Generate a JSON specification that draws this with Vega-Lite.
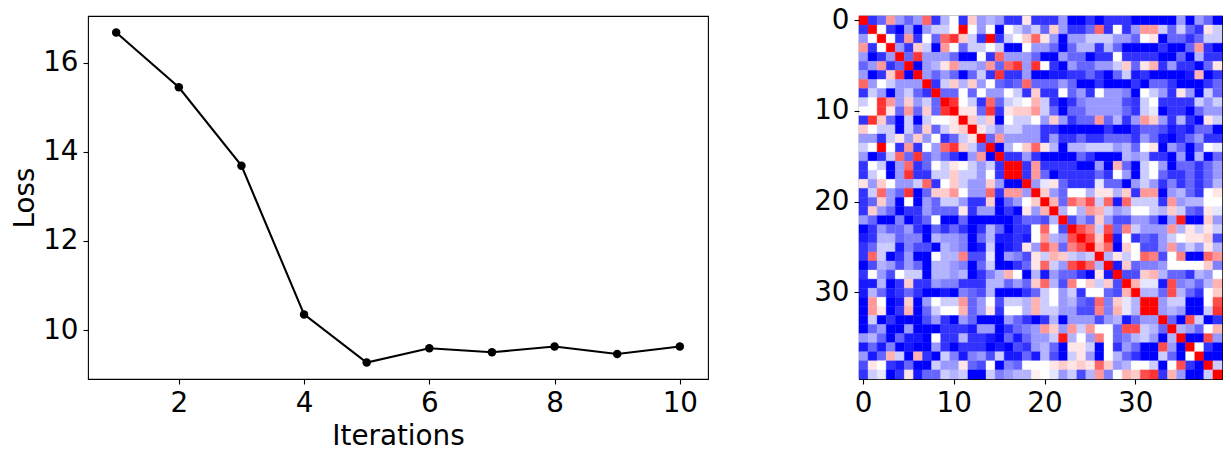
{"$schema":"https://vega.github.io/schema/vega-lite/v6.json","padding":{"left":11,"top":5,"right":9,"bottom":0},"autosize":{"type":"pad"},"background":"white","config":{"font":"DejaVu Sans","view":{"stroke":"black","strokeWidth":1.1},"axis":{"domain":false,"grid":false,"ticks":true,"tickColor":"black","tickSize":5,"tickWidth":1.1,"labelColor":"black","titleColor":"black","labelFont":"DejaVu Sans","titleFont":"DejaVu Sans","labelFontSize":27.8,"titleFontSize":27.8,"titleFontWeight":"normal","labelPadding":5,"labelFlush":false,"labelOverlap":false}},"spacing":104,"hconcat":[{"width":620,"height":363,"data":{"values":[{"Iterations":1,"Loss":16.68},{"Iterations":2,"Loss":15.45},{"Iterations":3,"Loss":13.69},{"Iterations":4,"Loss":10.35},{"Iterations":5,"Loss":9.27},{"Iterations":6,"Loss":9.59},{"Iterations":7,"Loss":9.5},{"Iterations":8,"Loss":9.63},{"Iterations":9,"Loss":9.46},{"Iterations":10,"Loss":9.63}]},"mark":{"type":"line","color":"black","strokeWidth":2.08,"point":{"filled":true,"color":"black","size":72,"opacity":1}},"encoding":{"x":{"field":"Iterations","type":"quantitative","scale":{"domain":[0.55,10.45],"nice":false,"zero":false},"axis":{"values":[2,4,6,8,10],"title":"Iterations","titlePadding":6}},"y":{"field":"Loss","type":"quantitative","scale":{"domain":[8.9,17.05],"nice":false,"zero":false},"axis":{"values":[10,12,14,16],"title":"Loss","titlePadding":3}}}},{"width":363,"height":363,"data":{"values":[
{"x":0,"y":0,"v":5},{"x":1,"y":0,"v":-4},{"x":2,"y":0,"v":-3},{"x":3,"y":0,"v":2},{"x":4,"y":0,"v":-2},{"x":5,"y":0,"v":-3},{"x":6,"y":0,"v":-2},{"x":7,"y":0,"v":3},{"x":8,"y":0,"v":-4},{"x":9,"y":0,"v":-1.5},{"x":10,"y":0,"v":0},{"x":11,"y":0,"v":-4},{"x":12,"y":0,"v":1},{"x":13,"y":0,"v":-2},{"x":14,"y":0,"v":-1.5},{"x":15,"y":0,"v":-2},{"x":16,"y":0,"v":-4},{"x":17,"y":0,"v":-4},{"x":18,"y":0,"v":0.5},{"x":19,"y":0,"v":-4},{"x":20,"y":0,"v":-4},{"x":21,"y":0,"v":-4},{"x":22,"y":0,"v":-2},{"x":23,"y":0,"v":-5},{"x":24,"y":0,"v":-5},{"x":25,"y":0,"v":-4},{"x":26,"y":0,"v":-5},{"x":27,"y":0,"v":-4},{"x":28,"y":0,"v":-4},{"x":29,"y":0,"v":-4},{"x":30,"y":0,"v":-5},{"x":31,"y":0,"v":-5},{"x":32,"y":0,"v":-5},{"x":33,"y":0,"v":-5},{"x":34,"y":0,"v":-5},{"x":35,"y":0,"v":-2},{"x":36,"y":0,"v":-5},{"x":37,"y":0,"v":-2},{"x":38,"y":0,"v":-3},{"x":39,"y":0,"v":-5},
{"x":0,"y":1,"v":-4},{"x":1,"y":1,"v":5},{"x":2,"y":1,"v":0},{"x":3,"y":1,"v":-4},{"x":4,"y":1,"v":-5},{"x":5,"y":1,"v":-2},{"x":6,"y":1,"v":-5},{"x":7,"y":1,"v":-2},{"x":8,"y":1,"v":-1},{"x":9,"y":1,"v":-1},{"x":10,"y":1,"v":0},{"x":11,"y":1,"v":5},{"x":12,"y":1,"v":0},{"x":13,"y":1,"v":-2},{"x":14,"y":1,"v":0},{"x":15,"y":1,"v":-5},{"x":16,"y":1,"v":0},{"x":17,"y":1,"v":-1},{"x":18,"y":1,"v":-2},{"x":19,"y":1,"v":-1},{"x":20,"y":1,"v":-3},{"x":21,"y":1,"v":1},{"x":22,"y":1,"v":-2},{"x":23,"y":1,"v":-4},{"x":24,"y":1,"v":-4},{"x":25,"y":1,"v":-3},{"x":26,"y":1,"v":3},{"x":27,"y":1,"v":-4},{"x":28,"y":1,"v":0},{"x":29,"y":1,"v":-4},{"x":30,"y":1,"v":-2},{"x":31,"y":1,"v":2},{"x":32,"y":1,"v":2},{"x":33,"y":1,"v":-1},{"x":34,"y":1,"v":-3},{"x":35,"y":1,"v":-1},{"x":36,"y":1,"v":-3},{"x":37,"y":1,"v":-4},{"x":38,"y":1,"v":0.5},{"x":39,"y":1,"v":-1},
{"x":0,"y":2,"v":-2},{"x":1,"y":2,"v":0},{"x":2,"y":2,"v":5},{"x":3,"y":2,"v":0},{"x":4,"y":2,"v":-4},{"x":5,"y":2,"v":2},{"x":6,"y":2,"v":-4},{"x":7,"y":2,"v":0},{"x":8,"y":2,"v":-3},{"x":9,"y":2,"v":3},{"x":10,"y":2,"v":4},{"x":11,"y":2,"v":1},{"x":12,"y":2,"v":-1},{"x":13,"y":2,"v":-4},{"x":14,"y":2,"v":5},{"x":15,"y":2,"v":-4},{"x":16,"y":2,"v":-1},{"x":17,"y":2,"v":0},{"x":18,"y":2,"v":1},{"x":19,"y":2,"v":3},{"x":20,"y":2,"v":0.5},{"x":21,"y":2,"v":-2},{"x":22,"y":2,"v":-5},{"x":23,"y":2,"v":-2},{"x":24,"y":2,"v":-2},{"x":25,"y":2,"v":-1},{"x":26,"y":2,"v":-1},{"x":27,"y":2,"v":-1},{"x":28,"y":2,"v":-2},{"x":29,"y":2,"v":-2},{"x":30,"y":2,"v":-3},{"x":31,"y":2,"v":0},{"x":32,"y":2,"v":0.5},{"x":33,"y":2,"v":-5},{"x":34,"y":2,"v":-3},{"x":35,"y":2,"v":-3},{"x":36,"y":2,"v":-4},{"x":37,"y":2,"v":-3},{"x":38,"y":2,"v":-1},{"x":39,"y":2,"v":-1},
{"x":0,"y":3,"v":2},{"x":1,"y":3,"v":-4},{"x":2,"y":3,"v":0},{"x":3,"y":3,"v":5},{"x":4,"y":3,"v":-2},{"x":5,"y":3,"v":-4},{"x":6,"y":3,"v":1},{"x":7,"y":3,"v":-1},{"x":8,"y":3,"v":-5},{"x":9,"y":3,"v":2},{"x":10,"y":3,"v":0},{"x":11,"y":3,"v":-3},{"x":12,"y":3,"v":-1},{"x":13,"y":3,"v":-1},{"x":14,"y":3,"v":0},{"x":15,"y":3,"v":-1},{"x":16,"y":3,"v":-5},{"x":17,"y":3,"v":-5},{"x":18,"y":3,"v":0},{"x":19,"y":3,"v":-2},{"x":20,"y":3,"v":-2},{"x":21,"y":3,"v":-3},{"x":22,"y":3,"v":-5},{"x":23,"y":3,"v":-3},{"x":24,"y":3,"v":-1.5},{"x":25,"y":3,"v":-1.5},{"x":26,"y":3,"v":-4},{"x":27,"y":3,"v":-1.5},{"x":28,"y":3,"v":-3},{"x":29,"y":3,"v":-5},{"x":30,"y":3,"v":-5},{"x":31,"y":3,"v":-5},{"x":32,"y":3,"v":-5},{"x":33,"y":3,"v":-4},{"x":34,"y":3,"v":-5},{"x":35,"y":3,"v":-5},{"x":36,"y":3,"v":-3},{"x":37,"y":3,"v":2},{"x":38,"y":3,"v":-4},{"x":39,"y":3,"v":-5},
{"x":0,"y":4,"v":-2},{"x":1,"y":4,"v":-5},{"x":2,"y":4,"v":-4},{"x":3,"y":4,"v":-2},{"x":4,"y":4,"v":5},{"x":5,"y":4,"v":-3},{"x":6,"y":4,"v":4},{"x":7,"y":4,"v":-2},{"x":8,"y":4,"v":-2},{"x":9,"y":4,"v":-2},{"x":10,"y":4,"v":-3},{"x":11,"y":4,"v":-5},{"x":12,"y":4,"v":-5},{"x":13,"y":4,"v":0},{"x":14,"y":4,"v":-4},{"x":15,"y":4,"v":3},{"x":16,"y":4,"v":-2},{"x":17,"y":4,"v":-2},{"x":18,"y":4,"v":-2},{"x":19,"y":4,"v":-3},{"x":20,"y":4,"v":-5},{"x":21,"y":4,"v":-5},{"x":22,"y":4,"v":-2},{"x":23,"y":4,"v":-3},{"x":24,"y":4,"v":-3},{"x":25,"y":4,"v":-5},{"x":26,"y":4,"v":-4},{"x":27,"y":4,"v":-4},{"x":28,"y":4,"v":0},{"x":29,"y":4,"v":-4},{"x":30,"y":4,"v":-4},{"x":31,"y":4,"v":-4},{"x":32,"y":4,"v":-4},{"x":33,"y":4,"v":-5},{"x":34,"y":4,"v":-5},{"x":35,"y":4,"v":-3},{"x":36,"y":4,"v":-5},{"x":37,"y":4,"v":-1.5},{"x":38,"y":4,"v":-4},{"x":39,"y":4,"v":-4},
{"x":0,"y":5,"v":-3},{"x":1,"y":5,"v":-2},{"x":2,"y":5,"v":2},{"x":3,"y":5,"v":-4},{"x":4,"y":5,"v":-3},{"x":5,"y":5,"v":5},{"x":6,"y":5,"v":-5},{"x":7,"y":5,"v":-2},{"x":8,"y":5,"v":-1.5},{"x":9,"y":5,"v":0.5},{"x":10,"y":5,"v":2},{"x":11,"y":5,"v":-1.5},{"x":12,"y":5,"v":-1.5},{"x":13,"y":5,"v":-2},{"x":14,"y":5,"v":2},{"x":15,"y":5,"v":-3},{"x":16,"y":5,"v":3},{"x":17,"y":5,"v":4},{"x":18,"y":5,"v":-2},{"x":19,"y":5,"v":4},{"x":20,"y":5,"v":0},{"x":21,"y":5,"v":-4},{"x":22,"y":5,"v":-5},{"x":23,"y":5,"v":-2},{"x":24,"y":5,"v":-3},{"x":25,"y":5,"v":-3},{"x":26,"y":5,"v":-2},{"x":27,"y":5,"v":-2},{"x":28,"y":5,"v":-1},{"x":29,"y":5,"v":1},{"x":30,"y":5,"v":-3},{"x":31,"y":5,"v":0.5},{"x":32,"y":5,"v":1.5},{"x":33,"y":5,"v":-4},{"x":34,"y":5,"v":-2},{"x":35,"y":5,"v":-4},{"x":36,"y":5,"v":-4},{"x":37,"y":5,"v":-5},{"x":38,"y":5,"v":-3},{"x":39,"y":5,"v":0.5},
{"x":0,"y":6,"v":-2},{"x":1,"y":6,"v":-5},{"x":2,"y":6,"v":-4},{"x":3,"y":6,"v":1},{"x":4,"y":6,"v":4},{"x":5,"y":6,"v":-5},{"x":6,"y":6,"v":5},{"x":7,"y":6,"v":-2},{"x":8,"y":6,"v":-3},{"x":9,"y":6,"v":-2},{"x":10,"y":6,"v":-3},{"x":11,"y":6,"v":-5},{"x":12,"y":6,"v":-3},{"x":13,"y":6,"v":-1},{"x":14,"y":6,"v":-4},{"x":15,"y":6,"v":4},{"x":16,"y":6,"v":-4},{"x":17,"y":6,"v":-4},{"x":18,"y":6,"v":-2},{"x":19,"y":6,"v":-5},{"x":20,"y":6,"v":-5},{"x":21,"y":6,"v":-4.5},{"x":22,"y":6,"v":-4.5},{"x":23,"y":6,"v":-4},{"x":24,"y":6,"v":-4},{"x":25,"y":6,"v":-3},{"x":26,"y":6,"v":-4},{"x":27,"y":6,"v":-5},{"x":28,"y":6,"v":-3},{"x":29,"y":6,"v":-1},{"x":30,"y":6,"v":-4.5},{"x":31,"y":6,"v":-4},{"x":32,"y":6,"v":-5},{"x":33,"y":6,"v":-5},{"x":34,"y":6,"v":-5},{"x":35,"y":6,"v":-5},{"x":36,"y":6,"v":-4.5},{"x":37,"y":6,"v":1.5},{"x":38,"y":6,"v":-5},{"x":39,"y":6,"v":-4},
{"x":0,"y":7,"v":3},{"x":1,"y":7,"v":-2},{"x":2,"y":7,"v":0},{"x":3,"y":7,"v":-1},{"x":4,"y":7,"v":-2},{"x":5,"y":7,"v":-2},{"x":6,"y":7,"v":-2},{"x":7,"y":7,"v":5},{"x":8,"y":7,"v":-4},{"x":9,"y":7,"v":-1},{"x":10,"y":7,"v":1},{"x":11,"y":7,"v":-1.5},{"x":12,"y":7,"v":1},{"x":13,"y":7,"v":-2},{"x":14,"y":7,"v":0},{"x":15,"y":7,"v":-3},{"x":16,"y":7,"v":-3.5},{"x":17,"y":7,"v":-3},{"x":18,"y":7,"v":3},{"x":19,"y":7,"v":-3},{"x":20,"y":7,"v":-3},{"x":21,"y":7,"v":-3},{"x":22,"y":7,"v":-2},{"x":23,"y":7,"v":-3},{"x":24,"y":7,"v":-5},{"x":25,"y":7,"v":-5},{"x":26,"y":7,"v":-4},{"x":27,"y":7,"v":-5},{"x":28,"y":7,"v":-5},{"x":29,"y":7,"v":-5},{"x":30,"y":7,"v":-4},{"x":31,"y":7,"v":-5},{"x":32,"y":7,"v":-3},{"x":33,"y":7,"v":-3},{"x":34,"y":7,"v":-4},{"x":35,"y":7,"v":-5},{"x":36,"y":7,"v":-5},{"x":37,"y":7,"v":-5},{"x":38,"y":7,"v":-4},{"x":39,"y":7,"v":-3},
{"x":0,"y":8,"v":-4},{"x":1,"y":8,"v":-1},{"x":2,"y":8,"v":-2},{"x":3,"y":8,"v":-5},{"x":4,"y":8,"v":-2},{"x":5,"y":8,"v":-1},{"x":6,"y":8,"v":-3},{"x":7,"y":8,"v":-4},{"x":8,"y":8,"v":5},{"x":9,"y":8,"v":-3},{"x":10,"y":8,"v":-3},{"x":11,"y":8,"v":0},{"x":12,"y":8,"v":-3},{"x":13,"y":8,"v":0},{"x":14,"y":8,"v":-2},{"x":15,"y":8,"v":-2},{"x":16,"y":8,"v":0},{"x":17,"y":8,"v":-1},{"x":18,"y":8,"v":-4},{"x":19,"y":8,"v":1},{"x":20,"y":8,"v":-4},{"x":21,"y":8,"v":-4},{"x":22,"y":8,"v":0},{"x":23,"y":8,"v":-3},{"x":24,"y":8,"v":-2},{"x":25,"y":8,"v":-4},{"x":26,"y":8,"v":0},{"x":27,"y":8,"v":-2},{"x":28,"y":8,"v":-2},{"x":29,"y":8,"v":-2.5},{"x":30,"y":8,"v":-5},{"x":31,"y":8,"v":0},{"x":32,"y":8,"v":-1},{"x":33,"y":8,"v":-2},{"x":34,"y":8,"v":-4},{"x":35,"y":8,"v":0.5},{"x":36,"y":8,"v":-2},{"x":37,"y":8,"v":-5},{"x":38,"y":8,"v":-1},{"x":39,"y":8,"v":-3},
{"x":0,"y":9,"v":-1},{"x":1,"y":9,"v":0},{"x":2,"y":9,"v":4},{"x":3,"y":9,"v":2},{"x":4,"y":9,"v":-2},{"x":5,"y":9,"v":1},{"x":6,"y":9,"v":-2},{"x":7,"y":9,"v":-1},{"x":8,"y":9,"v":-3},{"x":9,"y":9,"v":5},{"x":10,"y":9,"v":4},{"x":11,"y":9,"v":0},{"x":12,"y":9,"v":-1},{"x":13,"y":9,"v":-4},{"x":14,"y":9,"v":3},{"x":15,"y":9,"v":-3},{"x":16,"y":9,"v":-1},{"x":17,"y":9,"v":-0.5},{"x":18,"y":9,"v":0},{"x":19,"y":9,"v":1.5},{"x":20,"y":9,"v":-1},{"x":21,"y":9,"v":-4},{"x":22,"y":9,"v":-5},{"x":23,"y":9,"v":-4},{"x":24,"y":9,"v":-2.5},{"x":25,"y":9,"v":-2},{"x":26,"y":9,"v":-2},{"x":27,"y":9,"v":-2},{"x":28,"y":9,"v":-2},{"x":29,"y":9,"v":-3.5},{"x":30,"y":9,"v":-4},{"x":31,"y":9,"v":-1},{"x":32,"y":9,"v":0},{"x":33,"y":9,"v":-4},{"x":34,"y":9,"v":-4},{"x":35,"y":9,"v":-4},{"x":36,"y":9,"v":-4},{"x":37,"y":9,"v":-1},{"x":38,"y":9,"v":-2},{"x":39,"y":9,"v":-1},
{"x":0,"y":10,"v":0},{"x":1,"y":10,"v":0},{"x":2,"y":10,"v":4},{"x":3,"y":10,"v":0.5},{"x":4,"y":10,"v":-3},{"x":5,"y":10,"v":2},{"x":6,"y":10,"v":-3},{"x":7,"y":10,"v":1},{"x":8,"y":10,"v":-3},{"x":9,"y":10,"v":4},{"x":10,"y":10,"v":5},{"x":11,"y":10,"v":0.5},{"x":12,"y":10,"v":0.5},{"x":13,"y":10,"v":-3},{"x":14,"y":10,"v":4},{"x":15,"y":10,"v":-4},{"x":16,"y":10,"v":0.5},{"x":17,"y":10,"v":1},{"x":18,"y":10,"v":1},{"x":19,"y":10,"v":2},{"x":20,"y":10,"v":-1},{"x":21,"y":10,"v":-3},{"x":22,"y":10,"v":-5},{"x":23,"y":10,"v":-3},{"x":24,"y":10,"v":-3},{"x":25,"y":10,"v":-2},{"x":26,"y":10,"v":-2},{"x":27,"y":10,"v":-2},{"x":28,"y":10,"v":-2},{"x":29,"y":10,"v":-3},{"x":30,"y":10,"v":-4},{"x":31,"y":10,"v":-1},{"x":32,"y":10,"v":-0.5},{"x":33,"y":10,"v":-5},{"x":34,"y":10,"v":-4},{"x":35,"y":10,"v":-4},{"x":36,"y":10,"v":-5},{"x":37,"y":10,"v":-3},{"x":38,"y":10,"v":-2},{"x":39,"y":10,"v":-2},
{"x":0,"y":11,"v":-4},{"x":1,"y":11,"v":4},{"x":2,"y":11,"v":1},{"x":3,"y":11,"v":-3},{"x":4,"y":11,"v":-5},{"x":5,"y":11,"v":-1},{"x":6,"y":11,"v":-5},{"x":7,"y":11,"v":-1},{"x":8,"y":11,"v":0},{"x":9,"y":11,"v":0},{"x":10,"y":11,"v":0.5},{"x":11,"y":11,"v":5},{"x":12,"y":11,"v":1},{"x":13,"y":11,"v":-1},{"x":14,"y":11,"v":1},{"x":15,"y":11,"v":-5},{"x":16,"y":11,"v":0},{"x":17,"y":11,"v":-1},{"x":18,"y":11,"v":-1},{"x":19,"y":11,"v":0},{"x":20,"y":11,"v":-2},{"x":21,"y":11,"v":1},{"x":22,"y":11,"v":-2},{"x":23,"y":11,"v":-4},{"x":24,"y":11,"v":-3},{"x":25,"y":11,"v":-3},{"x":26,"y":11,"v":2},{"x":27,"y":11,"v":-3},{"x":28,"y":11,"v":-1.5},{"x":29,"y":11,"v":-4},{"x":30,"y":11,"v":-2},{"x":31,"y":11,"v":2},{"x":32,"y":11,"v":1},{"x":33,"y":11,"v":-2},{"x":34,"y":11,"v":-4},{"x":35,"y":11,"v":-1.5},{"x":36,"y":11,"v":-4},{"x":37,"y":11,"v":-5},{"x":38,"y":11,"v":0.5},{"x":39,"y":11,"v":-1},
{"x":0,"y":12,"v":1},{"x":1,"y":12,"v":0},{"x":2,"y":12,"v":-1},{"x":3,"y":12,"v":-1},{"x":4,"y":12,"v":-5},{"x":5,"y":12,"v":-1},{"x":6,"y":12,"v":-3},{"x":7,"y":12,"v":1},{"x":8,"y":12,"v":-3},{"x":9,"y":12,"v":-1},{"x":10,"y":12,"v":0.5},{"x":11,"y":12,"v":1},{"x":12,"y":12,"v":5},{"x":13,"y":12,"v":0.5},{"x":14,"y":12,"v":-1},{"x":15,"y":12,"v":-2},{"x":16,"y":12,"v":-1},{"x":17,"y":12,"v":-1},{"x":18,"y":12,"v":-2},{"x":19,"y":12,"v":-2},{"x":20,"y":12,"v":-4},{"x":21,"y":12,"v":-4},{"x":22,"y":12,"v":-5},{"x":23,"y":12,"v":-5},{"x":24,"y":12,"v":-5},{"x":25,"y":12,"v":-5},{"x":26,"y":12,"v":-5},{"x":27,"y":12,"v":-4},{"x":28,"y":12,"v":-5},{"x":29,"y":12,"v":-5},{"x":30,"y":12,"v":-4},{"x":31,"y":12,"v":-3},{"x":32,"y":12,"v":-3},{"x":33,"y":12,"v":-3.5},{"x":34,"y":12,"v":-4.5},{"x":35,"y":12,"v":-4},{"x":36,"y":12,"v":-4.5},{"x":37,"y":12,"v":-3},{"x":38,"y":12,"v":-3},{"x":39,"y":12,"v":-5},
{"x":0,"y":13,"v":-2},{"x":1,"y":13,"v":-2},{"x":2,"y":13,"v":-4},{"x":3,"y":13,"v":-1},{"x":4,"y":13,"v":0.5},{"x":5,"y":13,"v":-2},{"x":6,"y":13,"v":1},{"x":7,"y":13,"v":-2},{"x":8,"y":13,"v":0},{"x":9,"y":13,"v":-4},{"x":10,"y":13,"v":-3},{"x":11,"y":13,"v":-1},{"x":12,"y":13,"v":0.5},{"x":13,"y":13,"v":5},{"x":14,"y":13,"v":-3},{"x":15,"y":13,"v":2},{"x":16,"y":13,"v":-2},{"x":17,"y":13,"v":-2},{"x":18,"y":13,"v":-2},{"x":19,"y":13,"v":-2},{"x":20,"y":13,"v":-4},{"x":21,"y":13,"v":-2},{"x":22,"y":13,"v":-4},{"x":23,"y":13,"v":-4},{"x":24,"y":13,"v":-3},{"x":25,"y":13,"v":-4},{"x":26,"y":13,"v":-4},{"x":27,"y":13,"v":-3},{"x":28,"y":13,"v":-3},{"x":29,"y":13,"v":-3},{"x":30,"y":13,"v":-4},{"x":31,"y":13,"v":-2},{"x":32,"y":13,"v":-3},{"x":33,"y":13,"v":-4.5},{"x":34,"y":13,"v":-5},{"x":35,"y":13,"v":-4},{"x":36,"y":13,"v":-3},{"x":37,"y":13,"v":-2},{"x":38,"y":13,"v":-4},{"x":39,"y":13,"v":-4},
{"x":0,"y":14,"v":-1},{"x":1,"y":14,"v":0},{"x":2,"y":14,"v":5},{"x":3,"y":14,"v":0},{"x":4,"y":14,"v":-4},{"x":5,"y":14,"v":2},{"x":6,"y":14,"v":-4},{"x":7,"y":14,"v":0},{"x":8,"y":14,"v":-2},{"x":9,"y":14,"v":3},{"x":10,"y":14,"v":4},{"x":11,"y":14,"v":1},{"x":12,"y":14,"v":-1},{"x":13,"y":14,"v":-3},{"x":14,"y":14,"v":5},{"x":15,"y":14,"v":-5},{"x":16,"y":14,"v":-1.5},{"x":17,"y":14,"v":0},{"x":18,"y":14,"v":1},{"x":19,"y":14,"v":3},{"x":20,"y":14,"v":0.5},{"x":21,"y":14,"v":-1.5},{"x":22,"y":14,"v":-5},{"x":23,"y":14,"v":-1.5},{"x":24,"y":14,"v":-1.5},{"x":25,"y":14,"v":-1},{"x":26,"y":14,"v":-1},{"x":27,"y":14,"v":-1},{"x":28,"y":14,"v":-2},{"x":29,"y":14,"v":-1.5},{"x":30,"y":14,"v":-3},{"x":31,"y":14,"v":0},{"x":32,"y":14,"v":0.5},{"x":33,"y":14,"v":-5},{"x":34,"y":14,"v":-2},{"x":35,"y":14,"v":-3},{"x":36,"y":14,"v":-5},{"x":37,"y":14,"v":-3},{"x":38,"y":14,"v":0},{"x":39,"y":14,"v":-0.5},
{"x":0,"y":15,"v":-2},{"x":1,"y":15,"v":-5},{"x":2,"y":15,"v":-4},{"x":3,"y":15,"v":-1},{"x":4,"y":15,"v":3},{"x":5,"y":15,"v":-3},{"x":6,"y":15,"v":4},{"x":7,"y":15,"v":-3},{"x":8,"y":15,"v":-2},{"x":9,"y":15,"v":-3},{"x":10,"y":15,"v":-4},{"x":11,"y":15,"v":-5},{"x":12,"y":15,"v":-2},{"x":13,"y":15,"v":2},{"x":14,"y":15,"v":-5},{"x":15,"y":15,"v":5},{"x":16,"y":15,"v":-4},{"x":17,"y":15,"v":-4},{"x":18,"y":15,"v":-2},{"x":19,"y":15,"v":-4},{"x":20,"y":15,"v":-5},{"x":21,"y":15,"v":-5},{"x":22,"y":15,"v":-5},{"x":23,"y":15,"v":-5},{"x":24,"y":15,"v":-3},{"x":25,"y":15,"v":-4},{"x":26,"y":15,"v":-5},{"x":27,"y":15,"v":-5},{"x":28,"y":15,"v":-5},{"x":29,"y":15,"v":-1.5},{"x":30,"y":15,"v":-2},{"x":31,"y":15,"v":-1.5},{"x":32,"y":15,"v":-4},{"x":33,"y":15,"v":-4},{"x":34,"y":15,"v":-5},{"x":35,"y":15,"v":-2},{"x":36,"y":15,"v":-5},{"x":37,"y":15,"v":-1.5},{"x":38,"y":15,"v":-5},{"x":39,"y":15,"v":-3},
{"x":0,"y":16,"v":-4},{"x":1,"y":16,"v":0},{"x":2,"y":16,"v":-1},{"x":3,"y":16,"v":-5},{"x":4,"y":16,"v":-2},{"x":5,"y":16,"v":3},{"x":6,"y":16,"v":-4},{"x":7,"y":16,"v":-3},{"x":8,"y":16,"v":0},{"x":9,"y":16,"v":-1},{"x":10,"y":16,"v":0.5},{"x":11,"y":16,"v":0},{"x":12,"y":16,"v":-1},{"x":13,"y":16,"v":-2},{"x":14,"y":16,"v":-1},{"x":15,"y":16,"v":-4},{"x":16,"y":16,"v":5},{"x":17,"y":16,"v":5},{"x":18,"y":16,"v":-4},{"x":19,"y":16,"v":2},{"x":20,"y":16,"v":-4},{"x":21,"y":16,"v":-4},{"x":22,"y":16,"v":-4},{"x":23,"y":16,"v":-4},{"x":24,"y":16,"v":-5},{"x":25,"y":16,"v":-5},{"x":26,"y":16,"v":-2},{"x":27,"y":16,"v":-5},{"x":28,"y":16,"v":1.5},{"x":29,"y":16,"v":-3},{"x":30,"y":16,"v":-5},{"x":31,"y":16,"v":-1},{"x":32,"y":16,"v":0},{"x":33,"y":16,"v":-2},{"x":34,"y":16,"v":-5},{"x":35,"y":16,"v":-3},{"x":36,"y":16,"v":-3},{"x":37,"y":16,"v":-4},{"x":38,"y":16,"v":-3},{"x":39,"y":16,"v":-2},
{"x":0,"y":17,"v":-4},{"x":1,"y":17,"v":-1},{"x":2,"y":17,"v":0},{"x":3,"y":17,"v":-5},{"x":4,"y":17,"v":-2},{"x":5,"y":17,"v":4},{"x":6,"y":17,"v":-4},{"x":7,"y":17,"v":-4},{"x":8,"y":17,"v":-1},{"x":9,"y":17,"v":-1},{"x":10,"y":17,"v":1},{"x":11,"y":17,"v":-1},{"x":12,"y":17,"v":-1},{"x":13,"y":17,"v":-2},{"x":14,"y":17,"v":0},{"x":15,"y":17,"v":-4},{"x":16,"y":17,"v":5},{"x":17,"y":17,"v":5},{"x":18,"y":17,"v":-4},{"x":19,"y":17,"v":2},{"x":20,"y":17,"v":-3},{"x":21,"y":17,"v":-5},{"x":22,"y":17,"v":-4},{"x":23,"y":17,"v":-4},{"x":24,"y":17,"v":-4},{"x":25,"y":17,"v":-4},{"x":26,"y":17,"v":-3},{"x":27,"y":17,"v":-4},{"x":28,"y":17,"v":0},{"x":29,"y":17,"v":-2},{"x":30,"y":17,"v":-5},{"x":31,"y":17,"v":-1},{"x":32,"y":17,"v":0},{"x":33,"y":17,"v":-3},{"x":34,"y":17,"v":-4},{"x":35,"y":17,"v":-4},{"x":36,"y":17,"v":-3},{"x":37,"y":17,"v":-4},{"x":38,"y":17,"v":-3},{"x":39,"y":17,"v":-2},
{"x":0,"y":18,"v":0.5},{"x":1,"y":18,"v":-2},{"x":2,"y":18,"v":1},{"x":3,"y":18,"v":0},{"x":4,"y":18,"v":-2},{"x":5,"y":18,"v":-2},{"x":6,"y":18,"v":-1},{"x":7,"y":18,"v":3},{"x":8,"y":18,"v":-4},{"x":9,"y":18,"v":0},{"x":10,"y":18,"v":1},{"x":11,"y":18,"v":-1},{"x":12,"y":18,"v":-2},{"x":13,"y":18,"v":-2},{"x":14,"y":18,"v":1},{"x":15,"y":18,"v":-2},{"x":16,"y":18,"v":-5},{"x":17,"y":18,"v":-5},{"x":18,"y":18,"v":5},{"x":19,"y":18,"v":-2},{"x":20,"y":18,"v":-0.5},{"x":21,"y":18,"v":0.5},{"x":22,"y":18,"v":-3},{"x":23,"y":18,"v":-4},{"x":24,"y":18,"v":-4},{"x":25,"y":18,"v":-4},{"x":26,"y":18,"v":-0.5},{"x":27,"y":18,"v":-3},{"x":28,"y":18,"v":-3},{"x":29,"y":18,"v":-5},{"x":30,"y":18,"v":-2},{"x":31,"y":18,"v":-1},{"x":32,"y":18,"v":-2},{"x":33,"y":18,"v":-4},{"x":34,"y":18,"v":-2.5},{"x":35,"y":18,"v":-4},{"x":36,"y":18,"v":-3},{"x":37,"y":18,"v":-4},{"x":38,"y":18,"v":-3},{"x":39,"y":18,"v":-1.5},
{"x":0,"y":19,"v":-4},{"x":1,"y":19,"v":-1},{"x":2,"y":19,"v":3},{"x":3,"y":19,"v":-2},{"x":4,"y":19,"v":-3},{"x":5,"y":19,"v":4},{"x":6,"y":19,"v":-5},{"x":7,"y":19,"v":-3},{"x":8,"y":19,"v":1},{"x":9,"y":19,"v":1},{"x":10,"y":19,"v":2},{"x":11,"y":19,"v":0},{"x":12,"y":19,"v":-2},{"x":13,"y":19,"v":-2},{"x":14,"y":19,"v":3},{"x":15,"y":19,"v":-4},{"x":16,"y":19,"v":2},{"x":17,"y":19,"v":2},{"x":18,"y":19,"v":-2},{"x":19,"y":19,"v":5},{"x":20,"y":19,"v":1},{"x":21,"y":19,"v":-2},{"x":22,"y":19,"v":-3},{"x":23,"y":19,"v":0},{"x":24,"y":19,"v":0},{"x":25,"y":19,"v":-1.5},{"x":26,"y":19,"v":0.5},{"x":27,"y":19,"v":0.5},{"x":28,"y":19,"v":-1.5},{"x":29,"y":19,"v":1},{"x":30,"y":19,"v":-4},{"x":31,"y":19,"v":2},{"x":32,"y":19,"v":2},{"x":33,"y":19,"v":-5},{"x":34,"y":19,"v":-2},{"x":35,"y":19,"v":-1.5},{"x":36,"y":19,"v":-3},{"x":37,"y":19,"v":-4},{"x":38,"y":19,"v":0},{"x":39,"y":19,"v":0.5},
{"x":0,"y":20,"v":-4},{"x":1,"y":20,"v":-3},{"x":2,"y":20,"v":1},{"x":3,"y":20,"v":-2},{"x":4,"y":20,"v":-5},{"x":5,"y":20,"v":0},{"x":6,"y":20,"v":-5},{"x":7,"y":20,"v":-2},{"x":8,"y":20,"v":-3},{"x":9,"y":20,"v":-1},{"x":10,"y":20,"v":-1},{"x":11,"y":20,"v":-2},{"x":12,"y":20,"v":-4},{"x":13,"y":20,"v":-4},{"x":14,"y":20,"v":1},{"x":15,"y":20,"v":-5},{"x":16,"y":20,"v":-3},{"x":17,"y":20,"v":-2},{"x":18,"y":20,"v":0},{"x":19,"y":20,"v":1},{"x":20,"y":20,"v":5},{"x":21,"y":20,"v":1.5},{"x":22,"y":20,"v":-3},{"x":23,"y":20,"v":3},{"x":24,"y":20,"v":2},{"x":25,"y":20,"v":3.5},{"x":26,"y":20,"v":-1},{"x":27,"y":20,"v":3},{"x":28,"y":20,"v":-4.5},{"x":29,"y":20,"v":3},{"x":30,"y":20,"v":-1},{"x":31,"y":20,"v":-1},{"x":32,"y":20,"v":-1},{"x":33,"y":20,"v":-4},{"x":34,"y":20,"v":2},{"x":35,"y":20,"v":-2},{"x":36,"y":20,"v":-1.5},{"x":37,"y":20,"v":-1.5},{"x":38,"y":20,"v":0},{"x":39,"y":20,"v":0},
{"x":0,"y":21,"v":-4},{"x":1,"y":21,"v":1},{"x":2,"y":21,"v":-2},{"x":3,"y":21,"v":-3},{"x":4,"y":21,"v":-5},{"x":5,"y":21,"v":-4},{"x":6,"y":21,"v":-4},{"x":7,"y":21,"v":-2},{"x":8,"y":21,"v":-3},{"x":9,"y":21,"v":-3},{"x":10,"y":21,"v":-3},{"x":11,"y":21,"v":0.5},{"x":12,"y":21,"v":-4},{"x":13,"y":21,"v":-2},{"x":14,"y":21,"v":-2},{"x":15,"y":21,"v":-5},{"x":16,"y":21,"v":-4},{"x":17,"y":21,"v":-5},{"x":18,"y":21,"v":0.5},{"x":19,"y":21,"v":-2},{"x":20,"y":21,"v":1.5},{"x":21,"y":21,"v":5},{"x":22,"y":21,"v":-1.5},{"x":23,"y":21,"v":0},{"x":24,"y":21,"v":-1.5},{"x":25,"y":21,"v":2},{"x":26,"y":21,"v":1.5},{"x":27,"y":21,"v":-1},{"x":28,"y":21,"v":-2},{"x":29,"y":21,"v":-1.5},{"x":30,"y":21,"v":0},{"x":31,"y":21,"v":0},{"x":32,"y":21,"v":-1},{"x":33,"y":21,"v":-1.5},{"x":34,"y":21,"v":1},{"x":35,"y":21,"v":-1},{"x":36,"y":21,"v":-3},{"x":37,"y":21,"v":-3.5},{"x":38,"y":21,"v":0.5},{"x":39,"y":21,"v":-0.5},
{"x":0,"y":22,"v":-2},{"x":1,"y":22,"v":-3},{"x":2,"y":22,"v":-5},{"x":3,"y":22,"v":-5},{"x":4,"y":22,"v":-2.5},{"x":5,"y":22,"v":-5},{"x":6,"y":22,"v":-4},{"x":7,"y":22,"v":-3},{"x":8,"y":22,"v":0},{"x":9,"y":22,"v":-5},{"x":10,"y":22,"v":-5},{"x":11,"y":22,"v":-3},{"x":12,"y":22,"v":-5},{"x":13,"y":22,"v":-5},{"x":14,"y":22,"v":-5},{"x":15,"y":22,"v":-5},{"x":16,"y":22,"v":-5},{"x":17,"y":22,"v":-4},{"x":18,"y":22,"v":-3},{"x":19,"y":22,"v":-3},{"x":20,"y":22,"v":-3.5},{"x":21,"y":22,"v":-1.5},{"x":22,"y":22,"v":5},{"x":23,"y":22,"v":-3.5},{"x":24,"y":22,"v":-2},{"x":25,"y":22,"v":-3},{"x":26,"y":22,"v":1},{"x":27,"y":22,"v":-2},{"x":28,"y":22,"v":-3.5},{"x":29,"y":22,"v":-3.5},{"x":30,"y":22,"v":-2},{"x":31,"y":22,"v":-2},{"x":32,"y":22,"v":-3},{"x":33,"y":22,"v":-5},{"x":34,"y":22,"v":-2},{"x":35,"y":22,"v":4.5},{"x":36,"y":22,"v":-5},{"x":37,"y":22,"v":-5},{"x":38,"y":22,"v":1},{"x":39,"y":22,"v":-2},
{"x":0,"y":23,"v":-5},{"x":1,"y":23,"v":-4},{"x":2,"y":23,"v":-2},{"x":3,"y":23,"v":-3},{"x":4,"y":23,"v":-3},{"x":5,"y":23,"v":-2},{"x":6,"y":23,"v":-4},{"x":7,"y":23,"v":-5},{"x":8,"y":23,"v":-3},{"x":9,"y":23,"v":-4},{"x":10,"y":23,"v":-3},{"x":11,"y":23,"v":-4},{"x":12,"y":23,"v":-5},{"x":13,"y":23,"v":-4},{"x":14,"y":23,"v":-1.5},{"x":15,"y":23,"v":-3},{"x":16,"y":23,"v":-5},{"x":17,"y":23,"v":-4},{"x":18,"y":23,"v":-4},{"x":19,"y":23,"v":0},{"x":20,"y":23,"v":3},{"x":21,"y":23,"v":0},{"x":22,"y":23,"v":-3.5},{"x":23,"y":23,"v":5},{"x":24,"y":23,"v":3.5},{"x":25,"y":23,"v":2.5},{"x":26,"y":23,"v":-1},{"x":27,"y":23,"v":3.5},{"x":28,"y":23,"v":-3},{"x":29,"y":23,"v":2.5},{"x":30,"y":23,"v":-1},{"x":31,"y":23,"v":-2},{"x":32,"y":23,"v":-2},{"x":33,"y":23,"v":-2},{"x":34,"y":23,"v":2},{"x":35,"y":23,"v":-1.5},{"x":36,"y":23,"v":0.5},{"x":37,"y":23,"v":-1},{"x":38,"y":23,"v":0.5},{"x":39,"y":23,"v":-1},
{"x":0,"y":24,"v":-4.5},{"x":1,"y":24,"v":-4},{"x":2,"y":24,"v":-1.5},{"x":3,"y":24,"v":-1.5},{"x":4,"y":24,"v":-3},{"x":5,"y":24,"v":-2.5},{"x":6,"y":24,"v":-2.5},{"x":7,"y":24,"v":-5},{"x":8,"y":24,"v":-1.5},{"x":9,"y":24,"v":-2},{"x":10,"y":24,"v":-2},{"x":11,"y":24,"v":-2.5},{"x":12,"y":24,"v":-5},{"x":13,"y":24,"v":-3},{"x":14,"y":24,"v":-1.5},{"x":15,"y":24,"v":-4.5},{"x":16,"y":24,"v":-4.5},{"x":17,"y":24,"v":-4},{"x":18,"y":24,"v":-4.5},{"x":19,"y":24,"v":0},{"x":20,"y":24,"v":2},{"x":21,"y":24,"v":-1.5},{"x":22,"y":24,"v":-2},{"x":23,"y":24,"v":3.5},{"x":24,"y":24,"v":5},{"x":25,"y":24,"v":3.5},{"x":26,"y":24,"v":1},{"x":27,"y":24,"v":4.5},{"x":28,"y":24,"v":-4.5},{"x":29,"y":24,"v":0},{"x":30,"y":24,"v":-4},{"x":31,"y":24,"v":-3},{"x":32,"y":24,"v":-3.5},{"x":33,"y":24,"v":-2},{"x":34,"y":24,"v":-1},{"x":35,"y":24,"v":0},{"x":36,"y":24,"v":0.5},{"x":37,"y":24,"v":0.5},{"x":38,"y":24,"v":1},{"x":39,"y":24,"v":-3.5},
{"x":0,"y":25,"v":-4},{"x":1,"y":25,"v":-3},{"x":2,"y":25,"v":-1},{"x":3,"y":25,"v":-1},{"x":4,"y":25,"v":-4.5},{"x":5,"y":25,"v":-2.5},{"x":6,"y":25,"v":-3.5},{"x":7,"y":25,"v":-3.5},{"x":8,"y":25,"v":-5},{"x":9,"y":25,"v":-1.5},{"x":10,"y":25,"v":-2},{"x":11,"y":25,"v":-2.5},{"x":12,"y":25,"v":-5},{"x":13,"y":25,"v":-4.5},{"x":14,"y":25,"v":-1},{"x":15,"y":25,"v":-5},{"x":16,"y":25,"v":-4.5},{"x":17,"y":25,"v":-4},{"x":18,"y":25,"v":0.5},{"x":19,"y":25,"v":-2},{"x":20,"y":25,"v":3.5},{"x":21,"y":25,"v":2},{"x":22,"y":25,"v":-3},{"x":23,"y":25,"v":2.5},{"x":24,"y":25,"v":3.5},{"x":25,"y":25,"v":5},{"x":26,"y":25,"v":1.5},{"x":27,"y":25,"v":3},{"x":28,"y":25,"v":-5},{"x":29,"y":25,"v":1},{"x":30,"y":25,"v":0},{"x":31,"y":25,"v":-3.5},{"x":32,"y":25,"v":-3.5},{"x":33,"y":25,"v":-2},{"x":34,"y":25,"v":2},{"x":35,"y":25,"v":-2},{"x":36,"y":25,"v":-1},{"x":37,"y":25,"v":-2},{"x":38,"y":25,"v":0.5},{"x":39,"y":25,"v":-1.5},
{"x":0,"y":26,"v":-4},{"x":1,"y":26,"v":3},{"x":2,"y":26,"v":-1},{"x":3,"y":26,"v":-5},{"x":4,"y":26,"v":-4},{"x":5,"y":26,"v":-2},{"x":6,"y":26,"v":-5},{"x":7,"y":26,"v":-5},{"x":8,"y":26,"v":0},{"x":9,"y":26,"v":-1.5},{"x":10,"y":26,"v":-1.5},{"x":11,"y":26,"v":2.5},{"x":12,"y":26,"v":-3.5},{"x":13,"y":26,"v":-3.5},{"x":14,"y":26,"v":-0.5},{"x":15,"y":26,"v":-5},{"x":16,"y":26,"v":-2},{"x":17,"y":26,"v":-2.5},{"x":18,"y":26,"v":-3.5},{"x":19,"y":26,"v":0.5},{"x":20,"y":26,"v":-1},{"x":21,"y":26,"v":1.5},{"x":22,"y":26,"v":1},{"x":23,"y":26,"v":-1},{"x":24,"y":26,"v":-1.5},{"x":25,"y":26,"v":-1},{"x":26,"y":26,"v":5},{"x":27,"y":26,"v":-1.5},{"x":28,"y":26,"v":0.5},{"x":29,"y":26,"v":-1},{"x":30,"y":26,"v":0},{"x":31,"y":26,"v":3},{"x":32,"y":26,"v":2.5},{"x":33,"y":26,"v":-3.5},{"x":34,"y":26,"v":0},{"x":35,"y":26,"v":2.5},{"x":36,"y":26,"v":-5},{"x":37,"y":26,"v":-5},{"x":38,"y":26,"v":3},{"x":39,"y":26,"v":2},
{"x":0,"y":27,"v":-5},{"x":1,"y":27,"v":-3.5},{"x":2,"y":27,"v":-1.5},{"x":3,"y":27,"v":-2},{"x":4,"y":27,"v":-3.5},{"x":5,"y":27,"v":-2},{"x":6,"y":27,"v":-3},{"x":7,"y":27,"v":-5},{"x":8,"y":27,"v":-1.5},{"x":9,"y":27,"v":-1.5},{"x":10,"y":27,"v":-2},{"x":11,"y":27,"v":-2.5},{"x":12,"y":27,"v":-5},{"x":13,"y":27,"v":-3},{"x":14,"y":27,"v":-1},{"x":15,"y":27,"v":-5},{"x":16,"y":27,"v":-5},{"x":17,"y":27,"v":-4},{"x":18,"y":27,"v":-3},{"x":19,"y":27,"v":0.5},{"x":20,"y":27,"v":3},{"x":21,"y":27,"v":-1},{"x":22,"y":27,"v":-2},{"x":23,"y":27,"v":3.5},{"x":24,"y":27,"v":4.5},{"x":25,"y":27,"v":3},{"x":26,"y":27,"v":-1.5},{"x":27,"y":27,"v":5},{"x":28,"y":27,"v":-4.5},{"x":29,"y":27,"v":1},{"x":30,"y":27,"v":-3},{"x":31,"y":27,"v":-2.5},{"x":32,"y":27,"v":-2.5},{"x":33,"y":27,"v":-2},{"x":34,"y":27,"v":0},{"x":35,"y":27,"v":0},{"x":36,"y":27,"v":0},{"x":37,"y":27,"v":0},{"x":38,"y":27,"v":1},{"x":39,"y":27,"v":-2.5},
{"x":0,"y":28,"v":-4},{"x":1,"y":28,"v":0},{"x":2,"y":28,"v":-2},{"x":3,"y":28,"v":-3.5},{"x":4,"y":28,"v":0},{"x":5,"y":28,"v":-1},{"x":6,"y":28,"v":-1},{"x":7,"y":28,"v":-5},{"x":8,"y":28,"v":-1.5},{"x":9,"y":28,"v":-1.5},{"x":10,"y":28,"v":-2},{"x":11,"y":28,"v":-1.5},{"x":12,"y":28,"v":-5},{"x":13,"y":28,"v":-4},{"x":14,"y":28,"v":-2.5},{"x":15,"y":28,"v":-1.5},{"x":16,"y":28,"v":1.5},{"x":17,"y":28,"v":0},{"x":18,"y":28,"v":-5},{"x":19,"y":28,"v":-1.5},{"x":20,"y":28,"v":-4.5},{"x":21,"y":28,"v":-2},{"x":22,"y":28,"v":-3},{"x":23,"y":28,"v":-3},{"x":24,"y":28,"v":-4},{"x":25,"y":28,"v":-5},{"x":26,"y":28,"v":0.5},{"x":27,"y":28,"v":-4.5},{"x":28,"y":28,"v":5},{"x":29,"y":28,"v":-3.5},{"x":30,"y":28,"v":-3.5},{"x":31,"y":28,"v":1},{"x":32,"y":28,"v":1.5},{"x":33,"y":28,"v":-1.5},{"x":34,"y":28,"v":-3},{"x":35,"y":28,"v":-3},{"x":36,"y":28,"v":-4},{"x":37,"y":28,"v":-1.5},{"x":38,"y":28,"v":-2},{"x":39,"y":28,"v":0},
{"x":0,"y":29,"v":-4.5},{"x":1,"y":29,"v":-4.5},{"x":2,"y":29,"v":-1.5},{"x":3,"y":29,"v":-5},{"x":4,"y":29,"v":-4},{"x":5,"y":29,"v":1},{"x":6,"y":29,"v":-4},{"x":7,"y":29,"v":-4},{"x":8,"y":29,"v":-2},{"x":9,"y":29,"v":-2.5},{"x":10,"y":29,"v":-2.5},{"x":11,"y":29,"v":-4},{"x":12,"y":29,"v":-4},{"x":13,"y":29,"v":-4},{"x":14,"y":29,"v":-1.5},{"x":15,"y":29,"v":-1.5},{"x":16,"y":29,"v":-3},{"x":17,"y":29,"v":-2},{"x":18,"y":29,"v":-3},{"x":19,"y":29,"v":1},{"x":20,"y":29,"v":3},{"x":21,"y":29,"v":-1.5},{"x":22,"y":29,"v":-3.5},{"x":23,"y":29,"v":2.5},{"x":24,"y":29,"v":0},{"x":25,"y":29,"v":1},{"x":26,"y":29,"v":-1},{"x":27,"y":29,"v":1},{"x":28,"y":29,"v":-3.5},{"x":29,"y":29,"v":5},{"x":30,"y":29,"v":1.5},{"x":31,"y":29,"v":-0.5},{"x":32,"y":29,"v":-0.5},{"x":33,"y":29,"v":-4.5},{"x":34,"y":29,"v":3.5},{"x":35,"y":29,"v":-2.5},{"x":36,"y":29,"v":-2},{"x":37,"y":29,"v":-3},{"x":38,"y":29,"v":-1.5},{"x":39,"y":29,"v":1.5},
{"x":0,"y":30,"v":-4.5},{"x":1,"y":30,"v":-1.5},{"x":2,"y":30,"v":-3},{"x":3,"y":30,"v":-4.5},{"x":4,"y":30,"v":-4},{"x":5,"y":30,"v":-3},{"x":6,"y":30,"v":-4},{"x":7,"y":30,"v":-5},{"x":8,"y":30,"v":-5},{"x":9,"y":30,"v":-4.5},{"x":10,"y":30,"v":-5},{"x":11,"y":30,"v":-2.5},{"x":12,"y":30,"v":-3},{"x":13,"y":30,"v":-3.5},{"x":14,"y":30,"v":-1.5},{"x":15,"y":30,"v":-5},{"x":16,"y":30,"v":-5},{"x":17,"y":30,"v":-5},{"x":18,"y":30,"v":-4},{"x":19,"y":30,"v":-3},{"x":20,"y":30,"v":-1},{"x":21,"y":30,"v":0},{"x":22,"y":30,"v":-2},{"x":23,"y":30,"v":-1},{"x":24,"y":30,"v":-4},{"x":25,"y":30,"v":0},{"x":26,"y":30,"v":0},{"x":27,"y":30,"v":-3},{"x":28,"y":30,"v":-3.5},{"x":29,"y":30,"v":1.5},{"x":30,"y":30,"v":5},{"x":31,"y":30,"v":-1.5},{"x":32,"y":30,"v":-1.5},{"x":33,"y":30,"v":-3},{"x":34,"y":30,"v":3.5},{"x":35,"y":30,"v":-1.5},{"x":36,"y":30,"v":-3},{"x":37,"y":30,"v":-4},{"x":38,"y":30,"v":0},{"x":39,"y":30,"v":1},
{"x":0,"y":31,"v":-5},{"x":1,"y":31,"v":2},{"x":2,"y":31,"v":0},{"x":3,"y":31,"v":-5},{"x":4,"y":31,"v":-4.5},{"x":5,"y":31,"v":1},{"x":6,"y":31,"v":-5},{"x":7,"y":31,"v":-2},{"x":8,"y":31,"v":0},{"x":9,"y":31,"v":-1},{"x":10,"y":31,"v":-1},{"x":11,"y":31,"v":2},{"x":12,"y":31,"v":-3},{"x":13,"y":31,"v":-2},{"x":14,"y":31,"v":0},{"x":15,"y":31,"v":-3.5},{"x":16,"y":31,"v":-1},{"x":17,"y":31,"v":-1},{"x":18,"y":31,"v":-1.5},{"x":19,"y":31,"v":1.5},{"x":20,"y":31,"v":-1},{"x":21,"y":31,"v":0},{"x":22,"y":31,"v":-2},{"x":23,"y":31,"v":-1.5},{"x":24,"y":31,"v":-3},{"x":25,"y":31,"v":-3.5},{"x":26,"y":31,"v":3},{"x":27,"y":31,"v":-2.5},{"x":28,"y":31,"v":1},{"x":29,"y":31,"v":-0.5},{"x":30,"y":31,"v":-1.5},{"x":31,"y":31,"v":5},{"x":32,"y":31,"v":5},{"x":33,"y":31,"v":-2},{"x":34,"y":31,"v":-1},{"x":35,"y":31,"v":-1},{"x":36,"y":31,"v":-5},{"x":37,"y":31,"v":-5},{"x":38,"y":31,"v":0},{"x":39,"y":31,"v":3.5},
{"x":0,"y":32,"v":-5},{"x":1,"y":32,"v":2},{"x":2,"y":32,"v":0.5},{"x":3,"y":32,"v":-5},{"x":4,"y":32,"v":-4},{"x":5,"y":32,"v":1.5},{"x":6,"y":32,"v":-5},{"x":7,"y":32,"v":-3},{"x":8,"y":32,"v":-1},{"x":9,"y":32,"v":0},{"x":10,"y":32,"v":0},{"x":11,"y":32,"v":1.5},{"x":12,"y":32,"v":-3},{"x":13,"y":32,"v":-2},{"x":14,"y":32,"v":0.5},{"x":15,"y":32,"v":-4},{"x":16,"y":32,"v":0},{"x":17,"y":32,"v":0},{"x":18,"y":32,"v":-1.5},{"x":19,"y":32,"v":1.5},{"x":20,"y":32,"v":-1},{"x":21,"y":32,"v":-1},{"x":22,"y":32,"v":-2},{"x":23,"y":32,"v":-2},{"x":24,"y":32,"v":-3.5},{"x":25,"y":32,"v":-3.5},{"x":26,"y":32,"v":2.5},{"x":27,"y":32,"v":-2.5},{"x":28,"y":32,"v":1.5},{"x":29,"y":32,"v":-0.5},{"x":30,"y":32,"v":-1.5},{"x":31,"y":32,"v":5},{"x":32,"y":32,"v":5},{"x":33,"y":32,"v":-2},{"x":34,"y":32,"v":-1.5},{"x":35,"y":32,"v":-2},{"x":36,"y":32,"v":-5},{"x":37,"y":32,"v":-5},{"x":38,"y":32,"v":-1},{"x":39,"y":32,"v":4},
{"x":0,"y":33,"v":-5},{"x":1,"y":33,"v":-1},{"x":2,"y":33,"v":-5},{"x":3,"y":33,"v":-4},{"x":4,"y":33,"v":-5},{"x":5,"y":33,"v":-5},{"x":6,"y":33,"v":-5},{"x":7,"y":33,"v":-3.5},{"x":8,"y":33,"v":-2},{"x":9,"y":33,"v":-4},{"x":10,"y":33,"v":-5},{"x":11,"y":33,"v":-2},{"x":12,"y":33,"v":-3},{"x":13,"y":33,"v":-5},{"x":14,"y":33,"v":-5},{"x":15,"y":33,"v":-5},{"x":16,"y":33,"v":-2},{"x":17,"y":33,"v":-3},{"x":18,"y":33,"v":-4},{"x":19,"y":33,"v":-5},{"x":20,"y":33,"v":-4},{"x":21,"y":33,"v":-1.5},{"x":22,"y":33,"v":-5},{"x":23,"y":33,"v":-2},{"x":24,"y":33,"v":-2},{"x":25,"y":33,"v":-2},{"x":26,"y":33,"v":-3.5},{"x":27,"y":33,"v":-2},{"x":28,"y":33,"v":-1.5},{"x":29,"y":33,"v":-4.5},{"x":30,"y":33,"v":-3},{"x":31,"y":33,"v":-2},{"x":32,"y":33,"v":-2},{"x":33,"y":33,"v":5},{"x":34,"y":33,"v":-3},{"x":35,"y":33,"v":-5},{"x":36,"y":33,"v":3.5},{"x":37,"y":33,"v":-1},{"x":38,"y":33,"v":-5},{"x":39,"y":33,"v":-4},
{"x":0,"y":34,"v":-5},{"x":1,"y":34,"v":-3},{"x":2,"y":34,"v":-2},{"x":3,"y":34,"v":-5},{"x":4,"y":34,"v":-5},{"x":5,"y":34,"v":-2},{"x":6,"y":34,"v":-5},{"x":7,"y":34,"v":-5},{"x":8,"y":34,"v":-5},{"x":9,"y":34,"v":-4},{"x":10,"y":34,"v":-4},{"x":11,"y":34,"v":-4},{"x":12,"y":34,"v":-4.5},{"x":13,"y":34,"v":-2},{"x":14,"y":34,"v":-2},{"x":15,"y":34,"v":-5},{"x":16,"y":34,"v":-4},{"x":17,"y":34,"v":-3},{"x":18,"y":34,"v":-2.5},{"x":19,"y":34,"v":-2},{"x":20,"y":34,"v":2},{"x":21,"y":34,"v":1},{"x":22,"y":34,"v":-2},{"x":23,"y":34,"v":2},{"x":24,"y":34,"v":-1},{"x":25,"y":34,"v":2},{"x":26,"y":34,"v":0},{"x":27,"y":34,"v":0},{"x":28,"y":34,"v":-3},{"x":29,"y":34,"v":3.5},{"x":30,"y":34,"v":3.5},{"x":31,"y":34,"v":-1},{"x":32,"y":34,"v":-1.5},{"x":33,"y":34,"v":-3},{"x":34,"y":34,"v":5},{"x":35,"y":34,"v":-1.5},{"x":36,"y":34,"v":-2},{"x":37,"y":34,"v":-3},{"x":38,"y":34,"v":0},{"x":39,"y":34,"v":1.5},
{"x":0,"y":35,"v":-2},{"x":1,"y":35,"v":-1.5},{"x":2,"y":35,"v":-3},{"x":3,"y":35,"v":-5},{"x":4,"y":35,"v":-3},{"x":5,"y":35,"v":-4.5},{"x":6,"y":35,"v":-4.5},{"x":7,"y":35,"v":-5},{"x":8,"y":35,"v":0},{"x":9,"y":35,"v":-4},{"x":10,"y":35,"v":-4},{"x":11,"y":35,"v":-1.5},{"x":12,"y":35,"v":-4},{"x":13,"y":35,"v":-4},{"x":14,"y":35,"v":-4.5},{"x":15,"y":35,"v":-5},{"x":16,"y":35,"v":-3},{"x":17,"y":35,"v":-4.5},{"x":18,"y":35,"v":-3},{"x":19,"y":35,"v":-2},{"x":20,"y":35,"v":-2},{"x":21,"y":35,"v":-1},{"x":22,"y":35,"v":4.5},{"x":23,"y":35,"v":-1.5},{"x":24,"y":35,"v":0},{"x":25,"y":35,"v":-2},{"x":26,"y":35,"v":2.5},{"x":27,"y":35,"v":0},{"x":28,"y":35,"v":-3},{"x":29,"y":35,"v":-2.5},{"x":30,"y":35,"v":-1.5},{"x":31,"y":35,"v":-1},{"x":32,"y":35,"v":-2},{"x":33,"y":35,"v":-5},{"x":34,"y":35,"v":-1.5},{"x":35,"y":35,"v":5},{"x":36,"y":35,"v":-5},{"x":37,"y":35,"v":-5},{"x":38,"y":35,"v":3.5},{"x":39,"y":35,"v":-2},
{"x":0,"y":36,"v":-4.5},{"x":1,"y":36,"v":-3},{"x":2,"y":36,"v":-4.5},{"x":3,"y":36,"v":-2.5},{"x":4,"y":36,"v":-5},{"x":5,"y":36,"v":-4.5},{"x":6,"y":36,"v":-5},{"x":7,"y":36,"v":-5},{"x":8,"y":36,"v":-2},{"x":9,"y":36,"v":-4},{"x":10,"y":36,"v":-5},{"x":11,"y":36,"v":-4},{"x":12,"y":36,"v":-4},{"x":13,"y":36,"v":-4},{"x":14,"y":36,"v":-5},{"x":15,"y":36,"v":-4.5},{"x":16,"y":36,"v":-5},{"x":17,"y":36,"v":-3.5},{"x":18,"y":36,"v":-4},{"x":19,"y":36,"v":-2},{"x":20,"y":36,"v":-1.5},{"x":21,"y":36,"v":-3},{"x":22,"y":36,"v":-5},{"x":23,"y":36,"v":0.5},{"x":24,"y":36,"v":0.5},{"x":25,"y":36,"v":-1},{"x":26,"y":36,"v":-5},{"x":27,"y":36,"v":0},{"x":28,"y":36,"v":-4},{"x":29,"y":36,"v":-2},{"x":30,"y":36,"v":-3},{"x":31,"y":36,"v":-5},{"x":32,"y":36,"v":-5},{"x":33,"y":36,"v":3.5},{"x":34,"y":36,"v":-2},{"x":35,"y":36,"v":-5},{"x":36,"y":36,"v":5},{"x":37,"y":36,"v":0},{"x":38,"y":36,"v":-4},{"x":39,"y":36,"v":-5},
{"x":0,"y":37,"v":-2},{"x":1,"y":37,"v":-4.5},{"x":2,"y":37,"v":-3},{"x":3,"y":37,"v":1.5},{"x":4,"y":37,"v":-1},{"x":5,"y":37,"v":-5},{"x":6,"y":37,"v":1.5},{"x":7,"y":37,"v":-4},{"x":8,"y":37,"v":-5},{"x":9,"y":37,"v":-1},{"x":10,"y":37,"v":-2.5},{"x":11,"y":37,"v":-4.5},{"x":12,"y":37,"v":-2.5},{"x":13,"y":37,"v":-2},{"x":14,"y":37,"v":-3.5},{"x":15,"y":37,"v":-1},{"x":16,"y":37,"v":-4.5},{"x":17,"y":37,"v":-4.5},{"x":18,"y":37,"v":-3},{"x":19,"y":37,"v":-4.5},{"x":20,"y":37,"v":-1.5},{"x":21,"y":37,"v":-3.5},{"x":22,"y":37,"v":-5},{"x":23,"y":37,"v":-1},{"x":24,"y":37,"v":0.5},{"x":25,"y":37,"v":-2},{"x":26,"y":37,"v":-5},{"x":27,"y":37,"v":0},{"x":28,"y":37,"v":-1.5},{"x":29,"y":37,"v":-3},{"x":30,"y":37,"v":-4},{"x":31,"y":37,"v":-5},{"x":32,"y":37,"v":-5},{"x":33,"y":37,"v":-1},{"x":34,"y":37,"v":-3},{"x":35,"y":37,"v":-5},{"x":36,"y":37,"v":0},{"x":37,"y":37,"v":5},{"x":38,"y":37,"v":-5},{"x":39,"y":37,"v":-5},
{"x":0,"y":38,"v":-3.5},{"x":1,"y":38,"v":0.5},{"x":2,"y":38,"v":0},{"x":3,"y":38,"v":-4},{"x":4,"y":38,"v":-4.5},{"x":5,"y":38,"v":-3},{"x":6,"y":38,"v":-5},{"x":7,"y":38,"v":-5},{"x":8,"y":38,"v":-1},{"x":9,"y":38,"v":-2},{"x":10,"y":38,"v":-2},{"x":11,"y":38,"v":0.5},{"x":12,"y":38,"v":-3},{"x":13,"y":38,"v":-3.5},{"x":14,"y":38,"v":0},{"x":15,"y":38,"v":-5},{"x":16,"y":38,"v":-2.5},{"x":17,"y":38,"v":-3},{"x":18,"y":38,"v":0},{"x":19,"y":38,"v":0},{"x":20,"y":38,"v":0},{"x":21,"y":38,"v":0.5},{"x":22,"y":38,"v":1},{"x":23,"y":38,"v":0.5},{"x":24,"y":38,"v":1},{"x":25,"y":38,"v":0.5},{"x":26,"y":38,"v":3},{"x":27,"y":38,"v":1},{"x":28,"y":38,"v":-2},{"x":29,"y":38,"v":-1.5},{"x":30,"y":38,"v":0},{"x":31,"y":38,"v":0},{"x":32,"y":38,"v":-1},{"x":33,"y":38,"v":-5},{"x":34,"y":38,"v":0},{"x":35,"y":38,"v":3.5},{"x":36,"y":38,"v":-4},{"x":37,"y":38,"v":-5},{"x":38,"y":38,"v":5},{"x":39,"y":38,"v":-1},
{"x":0,"y":39,"v":-4},{"x":1,"y":39,"v":-1},{"x":2,"y":39,"v":-0.5},{"x":3,"y":39,"v":-5},{"x":4,"y":39,"v":-4},{"x":5,"y":39,"v":0.5},{"x":6,"y":39,"v":-4.5},{"x":7,"y":39,"v":-3},{"x":8,"y":39,"v":-3},{"x":9,"y":39,"v":-1},{"x":10,"y":39,"v":-1.5},{"x":11,"y":39,"v":-1},{"x":12,"y":39,"v":-5},{"x":13,"y":39,"v":-5},{"x":14,"y":39,"v":-1},{"x":15,"y":39,"v":-2.5},{"x":16,"y":39,"v":-2},{"x":17,"y":39,"v":-1.5},{"x":18,"y":39,"v":-1.5},{"x":19,"y":39,"v":0.3},{"x":20,"y":39,"v":0},{"x":21,"y":39,"v":-0.5},{"x":22,"y":39,"v":-2},{"x":23,"y":39,"v":-1},{"x":24,"y":39,"v":-3.5},{"x":25,"y":39,"v":-1.5},{"x":26,"y":39,"v":2},{"x":27,"y":39,"v":-2.5},{"x":28,"y":39,"v":0},{"x":29,"y":39,"v":1.5},{"x":30,"y":39,"v":1},{"x":31,"y":39,"v":3.5},{"x":32,"y":39,"v":4},{"x":33,"y":39,"v":-4},{"x":34,"y":39,"v":1.5},{"x":35,"y":39,"v":-2},{"x":36,"y":39,"v":-5},{"x":37,"y":39,"v":-5},{"x":38,"y":39,"v":-1},{"x":39,"y":39,"v":5}
]},"mark":{"type":"rect","strokeWidth":0.4},"encoding":{"x":{"field":"x","type":"ordinal","scale":{"paddingInner":0,"paddingOuter":0},"axis":{"values":[0,10,20,30],"title":null,"labelAngle":0}},"y":{"field":"y","type":"ordinal","scale":{"paddingInner":0,"paddingOuter":0},"axis":{"values":[0,10,20,30],"title":null}},"color":{"field":"v","type":"quantitative","scale":{"domain":[-5,0,5],"range":["#0000ff","#ffffff","#ff0000"],"interpolate":"rgb"},"legend":null},"stroke":{"field":"v","type":"quantitative","scale":{"domain":[-5,0,5],"range":["#0000ff","#ffffff","#ff0000"],"interpolate":"rgb"},"legend":null}}}]}
